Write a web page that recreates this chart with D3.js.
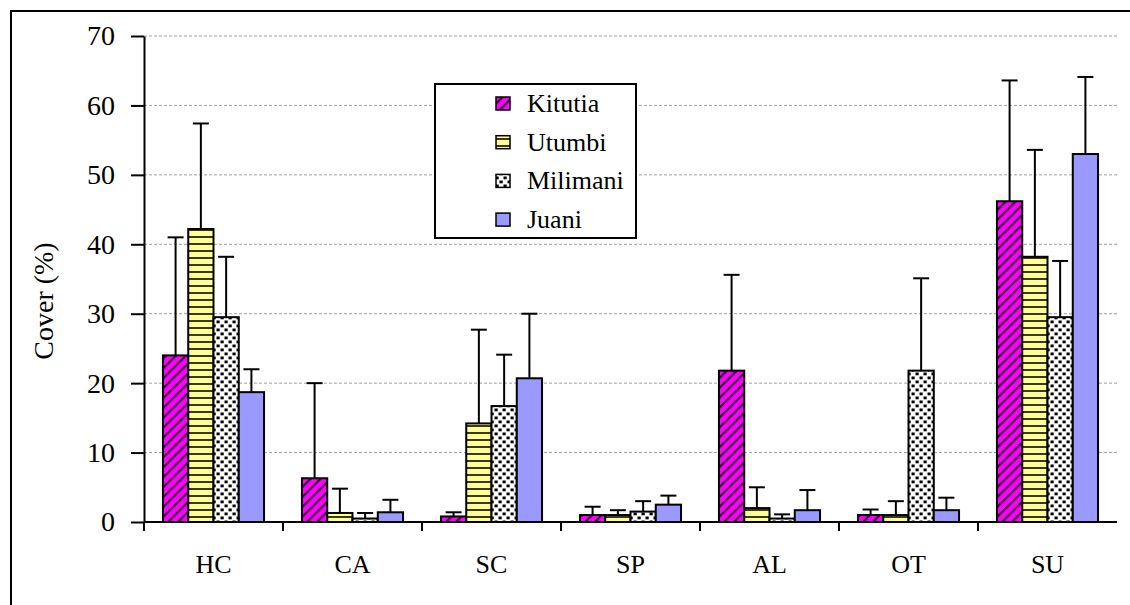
<!DOCTYPE html>
<html>
<head>
<meta charset="utf-8">
<script src="https://cdn.jsdelivr.net/npm/d3@7"></script>
<style>
  html, body { margin: 0; padding: 0; background: #fff; }
  svg { display: block; font-family: "Liberation Serif", "Times New Roman", serif; }
  svg text { font-family: "Liberation Serif", "Times New Roman", serif; }
</style>
</head>
<body>
<svg id="chart" width="1130" height="605"></svg>
<script>
// Habitat cover categories and sites
const categories = ["HC", "CA", "SC", "SP", "AL", "OT", "SU"];
const sites = ["Kitutia", "Utumbi", "Milimani", "Juani"];

// Mean cover (%) per site, in category order
const kitutia  = [24.0, 6.3, 0.8, 1.0, 21.8, 1.0, 46.2];
const utumbi   = [42.2, 1.3, 14.2, 1.0, 2.0, 1.0, 38.2];
const milimani = [29.5, 0.5, 16.7, 1.5, 0.5, 21.8, 29.5];
const juani    = [18.7, 1.4, 20.7, 2.5, 1.7, 1.7, 53.0];

// Upper end of the error bar (mean + SD), in category order
const kitutiaTop  = [41.0, 20.0, 1.4, 2.2, 35.6, 1.8, 63.6];
const utumbiTop   = [57.4, 4.8, 27.7, 1.7, 5.0, 3.0, 53.6];
const milimaniTop = [38.2, 1.3, 24.1, 3.0, 1.1, 35.1, 37.6];
const juaniTop    = [22.0, 3.2, 30.0, 3.8, 4.6, 3.5, 64.1];

const yTicks = [0, 10, 20, 30, 40, 50, 60, 70];

const means = [kitutia, utumbi, milimani, juani];
const tops = [kitutiaTop, utumbiTop, milimaniTop, juaniTop];
const fills = ["url(#pat-kitutia)", "url(#pat-utumbi)", "url(#pat-milimani)", "url(#pat-juani)"];

const svg = d3.select("#chart");
const W = 1130, H = 605;
const margin = { left: 144, right: 13, top: 36, bottom: 83 };
const FONT = "Liberation Serif, Times New Roman, serif";

// Outer frame
svg.append("rect")
  .attr("x", 11).attr("y", 11)
  .attr("width", W + 20).attr("height", H + 20)
  .attr("fill", "none").attr("stroke", "#000").attr("stroke-width", 2);

// Fill patterns
const defs = svg.append("defs");

const pk = defs.append("pattern").attr("id", "pat-kitutia")
  .attr("patternUnits", "userSpaceOnUse").attr("width", 7).attr("height", 7)
  .attr("patternTransform", "rotate(-45)");
pk.append("rect").attr("width", 7).attr("height", 7).attr("fill", "#ff00ff");
pk.append("rect").attr("x", 0).attr("y", 0).attr("width", 7).attr("height", 2.2).attr("fill", "#3a0a3a");

const pu = defs.append("pattern").attr("id", "pat-utumbi")
  .attr("patternUnits", "userSpaceOnUse").attr("width", 8).attr("height", 7);
pu.append("rect").attr("width", 8).attr("height", 7).attr("fill", "#ffff99");
pu.append("rect").attr("x", 0).attr("y", 5).attr("width", 8).attr("height", 2).attr("fill", "#3a3a1a");

const pm = defs.append("pattern").attr("id", "pat-milimani")
  .attr("patternUnits", "userSpaceOnUse").attr("width", 8).attr("height", 8);
pm.append("rect").attr("width", 8).attr("height", 8).attr("fill", "#ffffff");
pm.append("rect").attr("x", 0.5).attr("y", 0.5).attr("width", 3.2).attr("height", 2.8).attr("fill", "#000");
pm.append("rect").attr("x", 4.5).attr("y", 4.5).attr("width", 3.2).attr("height", 2.8).attr("fill", "#000");

const pj = defs.append("pattern").attr("id", "pat-juani")
  .attr("patternUnits", "userSpaceOnUse").attr("width", 4).attr("height", 4);
pj.append("rect").attr("width", 4).attr("height", 4).attr("fill", "#9999ff");

// Scales
const x = d3.scaleBand().domain(categories)
  .range([margin.left, W - margin.right]).paddingInner(0).paddingOuter(0);
const x1 = d3.scaleBand().domain(sites)
  .range([0, x.bandwidth()]).paddingOuter(0.75).paddingInner(0);
const y = d3.scaleLinear().domain([0, 70]).range([H - margin.bottom, margin.top]);

// Horizontal gridlines
svg.append("g").selectAll("line")
  .data(yTicks.filter(d => d > 0))
  .join("line")
  .attr("x1", margin.left).attr("x2", W - margin.right)
  .attr("y1", d => y(d)).attr("y2", d => y(d))
  .attr("stroke", "#a0a0a0").attr("stroke-width", 1).attr("stroke-dasharray", "3,2");

// Bars with upper error bars
const groups = svg.append("g").selectAll("g")
  .data(categories)
  .join("g")
  .attr("transform", c => `translate(${x(c)},0)`);

groups.each(function(c, ci) {
  const g = d3.select(this);
  sites.forEach((s, si) => {
    const v = means[si][ci];
    const bx = x1(s);
    const bw = x1.bandwidth();
    const cx = bx + bw / 2;
    g.append("line")
      .attr("x1", cx).attr("x2", cx)
      .attr("y1", y(v)).attr("y2", y(tops[si][ci]))
      .attr("stroke", "#000").attr("stroke-width", 2);
    g.append("line")
      .attr("x1", cx - 8).attr("x2", cx + 8)
      .attr("y1", y(tops[si][ci])).attr("y2", y(tops[si][ci]))
      .attr("stroke", "#000").attr("stroke-width", 2);
    g.append("rect")
      .attr("x", bx).attr("y", y(v))
      .attr("width", bw).attr("height", y(0) - y(v))
      .attr("fill", fills[si])
      .attr("stroke", "#000").attr("stroke-width", 2);
  });
});

// Y axis
const yAxis = d3.axisLeft(y).tickValues(yTicks).tickSize(13).tickSizeOuter(0).tickPadding(16);
const gy = svg.append("g").attr("transform", `translate(${margin.left},0)`).call(yAxis);
gy.attr("font-family", FONT).attr("font-size", 28);
gy.select(".domain").attr("stroke", "#000").attr("stroke-width", 2);
gy.selectAll(".tick line").attr("stroke", "#000").attr("stroke-width", 2);
gy.selectAll(".tick text").attr("fill", "#000");

// X axis: ticks at category boundaries, labels centred in each band
const boundaries = categories.map(c => x(c));
const gx = svg.append("g");
gx.append("line")
  .attr("x1", margin.left).attr("x2", W - margin.right)
  .attr("y1", y(0)).attr("y2", y(0))
  .attr("stroke", "#000").attr("stroke-width", 2);
gx.selectAll(".bt").data(boundaries)
  .join("line").attr("class", "bt")
  .attr("x1", d => d).attr("x2", d => d)
  .attr("y1", y(0)).attr("y2", y(0) + 9)
  .attr("stroke", "#000").attr("stroke-width", 2);
gx.selectAll("text").data(categories)
  .join("text")
  .attr("x", c => x(c) + x.bandwidth() / 2)
  .attr("y", y(0) + 51)
  .attr("text-anchor", "middle")
  .attr("font-size", 26)
  .text(c => c);

// Y axis title
svg.append("text")
  .attr("transform", `translate(53,${(y(0) + y(70)) / 2 + 22}) rotate(-90)`)
  .attr("text-anchor", "middle")
  .attr("font-size", 28)
  .text("Cover (%)");

// Legend
const lg = svg.append("g").attr("transform", "translate(435,84)");
lg.append("rect").attr("width", 201).attr("height", 154)
  .attr("fill", "#fff").attr("stroke", "#000").attr("stroke-width", 2);
sites.forEach((s, i) => {
  const ly = 19 + i * 38.7;
  lg.append("rect").attr("x", 61).attr("y", ly - 6).attr("width", 14).attr("height", 13)
    .attr("fill", fills[i]).attr("stroke", "#000").attr("stroke-width", 1.5);
  lg.append("text").attr("x", 92).attr("y", ly + 9).attr("font-size", 26).text(s);
});
</script>
</body>
</html>
